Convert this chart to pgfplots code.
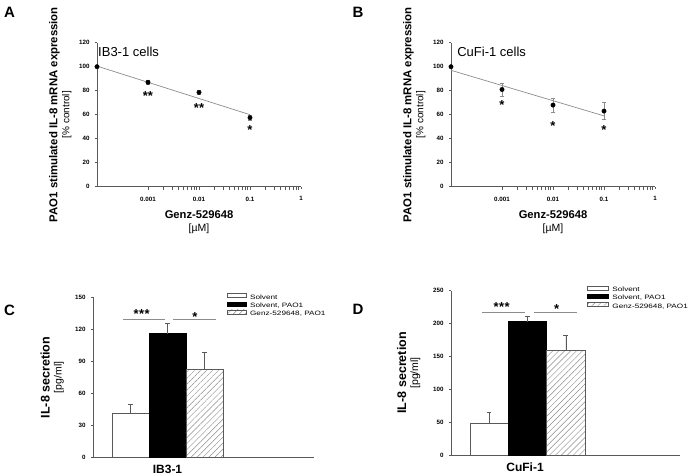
\documentclass[border=0pt]{standalone}
\usepackage{fontspec}
\setmainfont{Liberation Sans}
\newfontfamily\legfont[FakeStretch=1.3]{Liberation Sans}
\usepackage{pgfplots}
\pgfplotsset{compat=1.18}
\usetikzlibrary{patterns.meta}
\definecolor{axgray}{gray}{0.35}
\definecolor{linegray}{gray}{0.55}
\pgfplotsset{
  zzcommon/.style={
    scale only axis,
    axis x line*=bottom, axis y line*=left,
    axis line style={-, axgray, line width=0.6pt},
    tick align=outside, major tick length=2pt,
    tick style={axgray, line width=0.5pt},
    ticklabel style={font=\bfseries\fontsize{6.2}{7}\selectfont},
    /pgf/number format/assume math mode=true,
    clip=false,
  },
  zzscatter/.style={
    zzcommon,
    width=204pt, height=144pt,
    xmin=1e-4, xmax=1, ymin=0, ymax=120,
    xtick={0.001,0.01,0.1,1}, xticklabels={0.001,0.01,0.1,1},
    ytick={0,20,40,60,80,100,120},
    xticklabel style={yshift=-4.5pt},
    yticklabel style={xshift=-2pt},
    ylabel={\fontsize{11.4}{13}\selectfont\bfseries PAO1 stimulated IL-8 mRNA expression\\[0pt]\fontsize{10}{11}\selectfont [\% control]},
    ylabel style={at={(axis description cs:-0.18,0.5)}, anchor=center, align=center},
    xlabel={\fontsize{11.2}{13}\selectfont\bfseries Genz-529648\\[1.5pt]\fontsize{10.5}{12}\selectfont [µM]},
    xlabel style={at={(axis description cs:0.5,-0.245)}, anchor=center, align=center},
  },
  zzbar/.style={
    zzcommon,
    ymin=0,
    ybar, bar shift=0pt,
    xtick style={draw=none},
    xticklabel style={font=\bfseries\fontsize{12}{13}\selectfont, yshift=-2pt},
    yticklabel style={xshift=-2pt},
    ylabel style={at={(axis description cs:-0.185,0.5)}, anchor=center, align=center},
    legend cell align=left,
    legend style={draw=none, fill=none, inner sep=0pt, row sep=0pt,
      font=\legfont\fontsize{6.3}{7}\selectfont,
      nodes={inner sep=0pt, text height=5.1pt, text depth=2.2pt},
      /tikz/every odd column/.append style={column sep=3.5pt}},
  },
  zzwhite/.style={draw=axgray, fill=white, line width=0.5pt},
  zzblack/.style={draw=black, fill=black, line width=0.5pt},
  zzhatch/.style={draw=axgray, line width=0.5pt, pattern={Lines[angle=45, distance=4.2pt, line width=0.45pt]}, pattern color=linegray},
  zzerr/.style={error bars/y dir=plus, error bars/y explicit,
    error bars/error bar style={axgray, line width=0.5pt},
    error bars/error mark options={rotate=90, mark size=2.4pt, axgray, line width=0.5pt}},
  zzpts/.style={only marks, mark=*, mark size=2.2pt, black,
    error bars/y dir=both, error bars/y explicit,
    error bars/error bar style={linegray, line width=0.5pt},
    error bars/error mark options={rotate=90, mark size=2.4pt, linegray, line width=0.5pt}},
}
\tikzset{zzstar/.style={font=\bfseries\fontsize{13}{14}\selectfont, inner sep=0pt, anchor=north}}
\begin{document}
\begin{tikzpicture}[x=1pt,y=1pt]
\useasboundingbox (0,0) rectangle (699,476);

% ---------- Panel A ----------
\begin{axis}[xmode=log, zzscatter, at={(97pt,289.3pt)}, anchor=south west]
\addplot[linegray, line width=0.7pt, no marks] coordinates {(1e-4,100.5) (0.1,60)};
\addplot[zzpts] coordinates {
 (1e-4,100) +- (0,0)
 (0.001,87) +- (0,1.5)
 (0.01,78.6) +- (0,1.5)
 (0.1,57.5) +- (0,2)
};
\node[zzstar] at (axis cs:0.001,79.5) {**};
\node[zzstar] at (axis cs:0.01,69.5) {**};
\node[zzstar] at (axis cs:0.1,50.8) {*};
\node[anchor=north west, inner sep=0pt, font=\fontsize{13}{14}\selectfont] at (axis description cs:0.005,0.97) {IB3-1 cells};
\end{axis}
\node[font=\bfseries\fontsize{15}{16}\selectfont] at (9.5,463.5) {A};

% ---------- Panel B ----------
\begin{axis}[xmode=log, zzscatter, at={(451pt,289.3pt)}, anchor=south west]
\addplot[linegray, line width=0.7pt, no marks] coordinates {(1e-4,97) (0.1,59)};
\addplot[zzpts] coordinates {
 (1e-4,100) +- (0,0)
 (0.001,81) +- (0,5.5)
 (0.01,68) +- (0,6)
 (0.1,63) +- (0,7)
};
\node[zzstar] at (axis cs:0.001,72) {*};
\node[zzstar] at (axis cs:0.01,54.8) {*};
\node[zzstar] at (axis cs:0.1,50.9) {*};
\node[anchor=north west, inner sep=0pt, font=\fontsize{13}{14}\selectfont] at (axis description cs:0.03,0.97) {CuFi-1 cells};
\end{axis}
\node[font=\bfseries\fontsize{15}{16}\selectfont] at (358,463.5) {B};

% ---------- Panel C ----------
\begin{axis}[zzbar, at={(93pt,18.3pt)}, anchor=south west,
  width=221pt, height=160.4pt, xmin=0, xmax=221, ymax=150,
  ytick={0,30,60,90,120,150}, bar width=37,
  xtick={74.5}, xticklabels={IB3-1},
  ylabel={\fontsize{12.5}{14}\selectfont\bfseries IL-8 secretion\\[0pt]\fontsize{10.5}{12}\selectfont [pg/ml]},
  legend image code/.code={\draw[#1, line width=0.5pt] (0pt,0.2pt) rectangle (19pt,4.2pt);},
  legend style={at={(axis description cs:0.606,1.025)}, anchor=north west}]
\addplot[zzwhite, zzerr] coordinates {(37.35,41.5) +- (0,8.1)};
\addplot[zzblack, zzerr] coordinates {(74.5,116) +- (0,9.7)};
\addplot[zzhatch, zzerr] coordinates {(111.35,82.6) +- (0,15.9)};
\legend{Solvent, {Solvent, PAO1}, {Genz-529648, PAO1}}
\addplot[forget plot, sharp plot, linegray, line width=0.7pt, no marks] coordinates {(30.3,129.7) (72,129.7)};
\addplot[forget plot, sharp plot, linegray, line width=0.7pt, no marks] coordinates {(80.3,129.7) (123,129.7)};
\node[zzstar] at (axis cs:48.7,139) {*\kern0.5pt*\kern0.5pt*};
\node[zzstar] at (axis cs:102,136) {*};
\end{axis}
\node[font=\bfseries\fontsize{15}{16}\selectfont] at (9.5,166) {C};

% ---------- Panel D ----------
\begin{axis}[zzbar, at={(451pt,21pt)}, anchor=south west,
  width=229pt, height=164.3pt, xmin=0, xmax=229, ymax=250,
  ytick={0,50,100,150,200,250}, bar width=38.5,
  xtick={74}, xticklabels={CuFi-1},
  ylabel={\fontsize{12.5}{14}\selectfont\bfseries IL-8 secretion\\[0pt]\fontsize{10.5}{12}\selectfont [pg/ml]},
  legend image code/.code={\draw[#1, line width=0.5pt] (0pt,0.2pt) rectangle (21pt,4.2pt);},
  legend style={at={(axis description cs:0.595,1.03)}, anchor=north west}]
\addplot[zzwhite, zzerr] coordinates {(38,48.7) +- (0,16.7)};
\addplot[zzblack, zzerr] coordinates {(76.3,203) +- (0,7.4)};
\addplot[zzhatch, zzerr] coordinates {(114.8,159.7) +- (0,22.3)};
\legend{Solvent, {Solvent, PAO1}, {Genz-529648, PAO1}}
\addplot[forget plot, sharp plot, linegray, line width=0.7pt, no marks] coordinates {(30.7,217) (74,217)};
\addplot[forget plot, sharp plot, linegray, line width=0.7pt, no marks] coordinates {(83.3,217) (126.3,217)};
\node[zzstar] at (axis cs:50.7,232) {*\kern0.5pt*\kern0.5pt*};
\node[zzstar] at (axis cs:105.7,229.5) {*};
\end{axis}
\node[font=\bfseries\fontsize{15}{16}\selectfont] at (358,166.5) {D};
\end{tikzpicture}
\end{document}
